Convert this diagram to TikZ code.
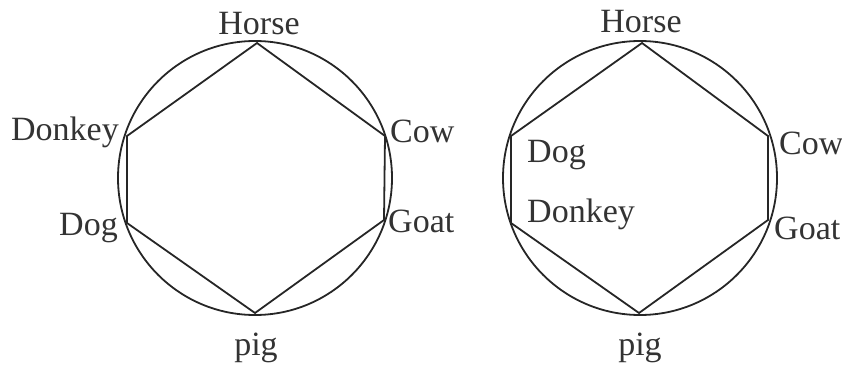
\documentclass[tikz,border=0pt]{standalone}
\usepackage{fontspec}
\setmainfont{Liberation Serif}
\begin{document}
\begin{tikzpicture}[x=1pt,y=-1pt,
  ring/.style={draw=black!85,line width=1.8pt},
  hexline/.style={draw=black!85,line width=1.8pt,line join=miter},
  lab/.style={inner sep=0pt,font=\fontsize{34}{38}\selectfont,text=black!80}]
\useasboundingbox (0,0) rectangle (842,366);
% left panel
\node[ring,circle,minimum size=274pt,inner sep=0pt] (cL) at (255,178) {};
\coordinate (L1) at (257,43);
\coordinate (L2) at (385,136);
\coordinate (L3) at (384,220);
\coordinate (L4) at (255,313);
\coordinate (L5) at (127,223);
\coordinate (L6) at (127,136);
\draw[hexline] (L1) -- (L2) -- (L3) -- (L4) -- (L5) -- (L6) -- cycle;
\node[lab,anchor=base] (hL) at (259,35) {Horse};
\node[lab,anchor=base east] (dkL) at (119,141) {Donkey};
\node[lab,anchor=base east] (dgL) at (118,235) {Dog};
\node[lab,anchor=base west] (cwL) at (390,143) {Cow};
\node[lab,anchor=base west] (gtL) at (388,232) {Goat};
\node[lab,anchor=base] (pL) at (256,355) {pig};
% right panel
\node[ring,circle,minimum size=274pt,inner sep=0pt] (cR) at (640,178) {};
\coordinate (R1) at (642,43);
\coordinate (R2) at (768,136);
\coordinate (R3) at (768,220);
\coordinate (R4) at (639,313);
\coordinate (R5) at (511,223);
\coordinate (R6) at (511,136);
\draw[hexline] (R1) -- (R2) -- (R3) -- (R4) -- (R5) -- (R6) -- cycle;
\node[lab,anchor=base] (hR) at (641,33) {Horse};
\node[lab,anchor=base west] (dgR) at (527,162) {Dog};
\node[lab,anchor=base west] (dkR) at (527,222) {Donkey};
\node[lab,anchor=base west] (cwR) at (779,155) {Cow};
\node[lab,anchor=base west] (gtR) at (774,239) {Goat};
\node[lab,anchor=base] (pR) at (640,355) {pig};
\end{tikzpicture}
\end{document}
